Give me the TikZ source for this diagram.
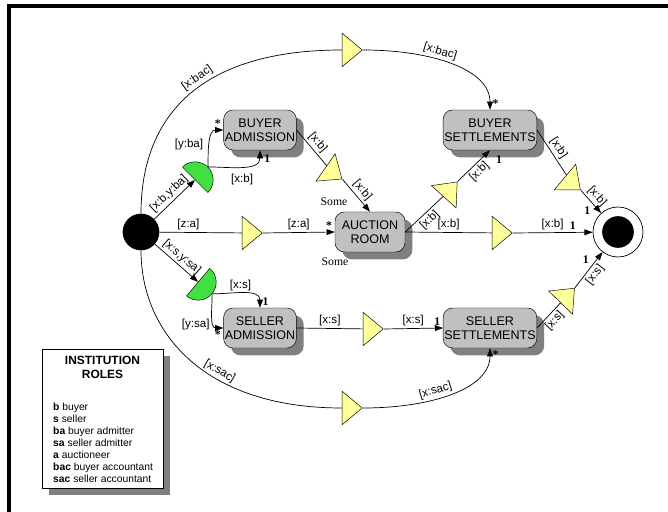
\documentclass[tikz,border=0pt]{standalone}
\usepackage{fontspec}
\setmainfont{Liberation Sans}
\newfontfamily\serifnote{Liberation Serif}
\usetikzlibrary{positioning,arrows.meta,shapes.geometric,shadows}

\definecolor{scenefill}{RGB}{192,192,192}
\definecolor{scenedrop}{RGB}{128,128,128}
\definecolor{gatefill}{RGB}{255,255,153}
\definecolor{splitfill}{RGB}{64,224,64}

\newcommand{\PxUnit}{0.03cm}

\begin{document}
\begin{tikzpicture}[x=\PxUnit, y=\PxUnit,
  scene/.style={draw, rounded corners=8pt, fill=scenefill, minimum width=2.1cm,
    minimum height=1.2cm, inner xsep=1pt, align=center,
    font=\fontsize{10.7}{12}\selectfont,
    drop shadow={shadow xshift=0.22cm, shadow yshift=-0.22cm, fill=scenedrop, opacity=1}},
  gate/.style={draw, fill=gatefill, isosceles triangle, isosceles triangle stretches,
    minimum width=1cm, minimum height=0.6cm, inner sep=0pt},
  split/.style={draw, fill=splitfill, semicircle, minimum width=1.08cm, inner sep=0pt,
    anchor=chord center},
  flow/.style={line width=0.6pt, -{Triangle[length=7pt,width=5pt]}},
  link/.style={line width=0.6pt},
  lbl/.style={font=\fontsize{9.9}{11}\selectfont, sloped, above, inner sep=2pt},
  tag/.style={font=\fontsize{9.9}{11}\selectfont, inner sep=2pt},
  mult/.style={font=\serifnote\bfseries\fontsize{10}{11}\selectfont, inner sep=2pt},
  note/.style={font=\serifnote\fontsize{10}{11}\selectfont}]

% frame
\useasboundingbox (0,0) rectangle (668,-512);
\draw[line width=3pt] (9,-512) -- (9,-6) -- (668,-6);

% start and end states
\node[circle, fill=black, minimum size=1.1cm, inner sep=0pt] (start) at (141,-232) {};
\node[circle, draw, line width=0.6pt, fill=white, minimum size=1.5cm, inner sep=0pt] (finish) at (618,-232) {};
\node[circle, fill=black, minimum size=0.95cm, inner sep=0pt] (finishDot) at (finish) {};

% scenes
\node[scene] (bAdm) at (260,-130) {BUYER\\ADMISSION};
\node[scene, minimum width=2.78cm] (bSet) at (490,-130) {BUYER\\SETTLEMENTS};
\node[scene] (room) at (370,-232) {AUCTION\\ROOM};
\node[scene] (sAdm) at (260,-328) {SELLER\\ADMISSION};
\node[scene, minimum width=2.78cm] (sSet) at (490,-328) {SELLER\\SETTLEMENTS};

% and-splits
\node[split, rotate=-45] (gB) at (195,-180) {};
\node[split, rotate=-130] (gS) at (198,-282) {};

% transitions
\foreach \name/\px/\py/\rot in {tBac/350/-50/0, tBa/332/-172/-35, tZa/250/-233/0,
    tRb/449/-191/48, tXb/500/-233/0, tBf/571/-182/-40, tSa/371/-329/0,
    tSf/566/-297/46, tSac/350/-408/0}
  \node[gate, rotate=\rot] (\name) at (\px,\py) {};

% buyer side
\draw[flow] (start) -- node[lbl]{[x:b,y:ba]} (gB);
\draw[flow] (gB.apex) to[out=90, in=180] node[tag, pos=0.45, left=3pt]{[y:ba]}
  node[mult, pos=1, above left]{*} (bAdm.west);
\draw[flow] (gB.apex) to[out=0, in=-90] node[tag, pos=0.5, below=4pt]{[x:b]}
  node[mult, pos=1, below right=2pt]{1} (bAdm.south);

% buyer accountant
\draw[link] (start.north) .. controls +(0,90) and +(-150,0) .. node[lbl, pos=0.58]{[x:bac]} (tBac.west);
\draw[flow] (tBac.apex) .. controls +(70,0) and +(0,40) .. node[lbl, pos=0.4]{[x:bac]}
  node[mult, pos=1, above right]{*} (bSet.north);

% into the auction room
\draw[link] (bAdm.east) -- node[lbl]{[x:b]} (tBa);
\draw[flow] (tBa.apex) -- node[lbl]{[x:b]} (room.north);
\node[note] (someTop) at (334,-202) {Some};
\draw[link] (start) -- node[lbl, pos=0.35]{[z:a]} (tZa);
\draw[flow] (tZa.apex) -- node[lbl]{[z:a]} node[mult, pos=1, above left]{*} (room.west);
\node[note] (someLow) at (335,-262) {Some};

% out of the auction room
\draw[link] (room.east) -- node[lbl, below]{[x:b]} (tRb);
\draw[flow] (tRb.apex) -- node[lbl, below]{[x:b]} node[mult, pos=1, below right=4pt]{1} (bSet.south);
\draw[link] (room.east) -- node[lbl]{[x:b]} (tXb);
\draw[flow] (tXb.apex) -- node[lbl]{[x:b]} node[mult, pos=0.75, above]{1} (finish);
\draw[link] (bSet.east) -- node[lbl]{[x:b]} (tBf);
\draw[flow] (tBf.apex) -- node[lbl]{[x:b]} node[mult, pos=0.6, below left]{1} (finish);

% seller side
\draw[flow] (start) -- node[lbl]{[x:s,y:sa]} (gS);
\draw[flow] (gS.apex) to[out=0, in=90] node[tag, pos=0.45, above]{[x:s]}
  node[mult, pos=1, above right]{1} (sAdm.north);
\draw[flow] (gS.apex) to[out=-90, in=180] node[tag, pos=0.75, left=3pt]{[y:sa]}
  node[mult, pos=1, below left]{*} (sAdm.west);
\draw[link] (sAdm.east) -- node[lbl]{[x:s]} (tSa);
\draw[flow] (tSa.apex) -- node[lbl]{[x:s]} node[mult, pos=1, above left]{1} (sSet.west);
\draw[link] (sSet.east) -- node[lbl, below]{[x:s]} (tSf);
\draw[flow] (tSf.apex) -- node[lbl, below]{[x:s]} node[mult, pos=0.6, above left]{1} (finish);

% seller accountant
\draw[link] (start.south) .. controls +(0,-80) and +(-140,0) .. node[lbl, pos=0.62]{[x:sac]} (tSac.west);
\draw[flow] (tSac.apex) .. controls +(70,0) and +(0,-40) .. node[lbl, pos=0.4]{[x:sac]}
  node[mult, pos=1, below right]{*} (sSet.south);

% roles legend
\node[draw, fill=white, minimum width=3.63cm, minimum height=4.17cm, inner sep=0pt,
  drop shadow={shadow xshift=0.21cm, shadow yshift=-0.21cm, fill=scenedrop, opacity=1}]
  (roles) at (102.5,-418.5) {};
\node[font=\bfseries\fontsize{10.2}{12}\selectfont, align=center, anchor=north]
  (rolesTitle) at (102.5,-352) {INSTITUTION\\ROLES};
\foreach \key/\descr [count=\i] in {b/buyer, s/seller, ba/buyer admitter, sa/seller admitter,
    a/auctioneer, bac/buyer accountant, sac/seller accountant}
  \node[anchor=base west, inner sep=0pt, font=\fontsize{8.8}{10}\selectfont]
    (role\i) at (53,-398-12*\i) {\textbf{\key} \descr};
\end{tikzpicture}
\end{document}
